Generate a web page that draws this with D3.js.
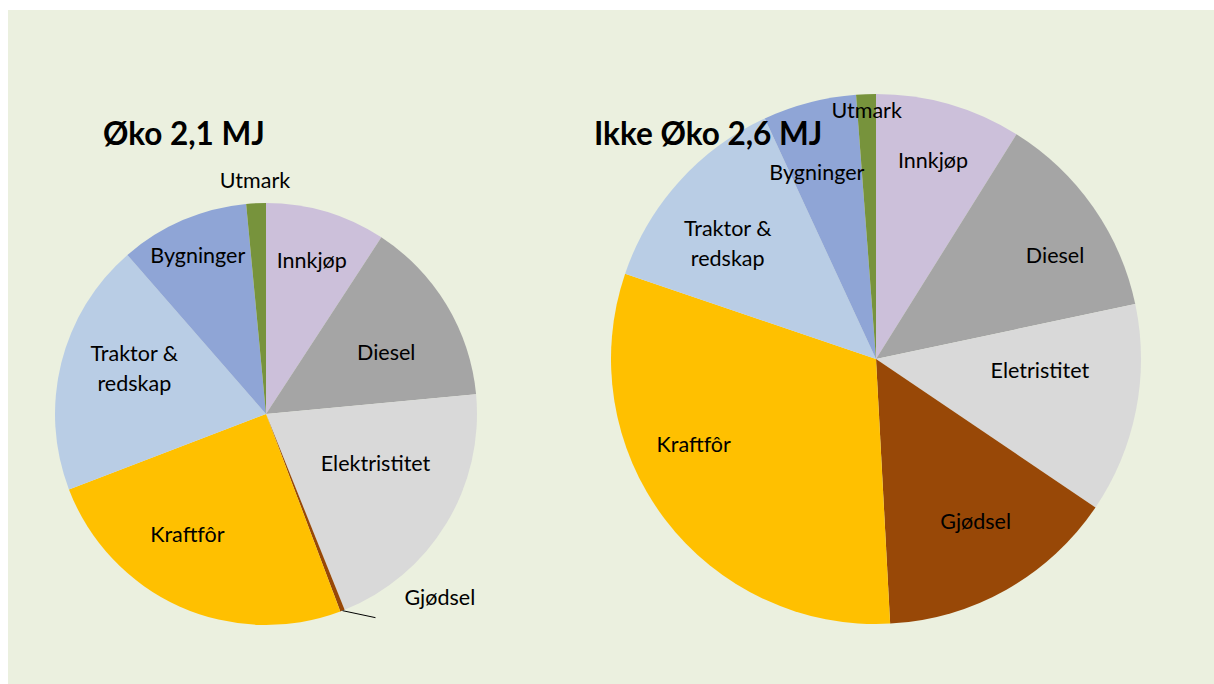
<!DOCTYPE html>
<html>
<head>
<meta charset="utf-8">
<script src="https://cdn.jsdelivr.net/npm/d3@7"></script>
<style>
  html, body { margin: 0; padding: 0; background: #fff; }
  svg { display: block; }
  text { font-family: Lato, "Open Sans", sans-serif; fill: #000; }
</style>
</head>
<body>
<svg id="chart" width="1214" height="684"></svg>
<script>
// shares in percent
var categoriesOko = ['Innkjøp', 'Diesel', 'Elektristitet', 'Gjødsel', 'Kraftfôr', 'Traktor & redskap', 'Bygninger', 'Utmark'];
var valuesOko = [9.2, 14.3, 20.4, 0.35, 24.9, 19.4, 9.9, 1.5];

var categoriesIkke = ['Innkjøp', 'Diesel', 'Eletristitet', 'Gjødsel', 'Kraftfôr', 'Traktor & redskap', 'Bygninger', 'Utmark'];
var valuesIkke = [8.9, 12.8, 12.8, 14.7, 31.1, 12.9, 5.7, 1.2];

var titles = ['Øko 2,1 MJ', 'Ikke Øko 2,6 MJ'];
var colors = ['#ccc0da', '#a5a5a5', '#d9d9d9', '#984807', '#ffc000', '#b9cde5', '#8fa5d6', '#77933c'];

var svg = d3.select('#chart');

svg.append('rect')
  .attr('x', 8).attr('y', 10)
  .attr('width', 1206).attr('height', 674)
  .attr('fill', '#ebf0df');

var color = d3.scaleOrdinal().domain(d3.range(8)).range(colors);

var pie = d3.pie().sort(null).value(d => d.value);

var fs = 21.5;

function drawPie(cats, vals, cx, cy, r, labelR, labelTurn) {
  var data = cats.map((c, i) => ({ name: c, value: vals[i], i: i }));
  var arcs = pie(data);
  var g = svg.append('g').attr('transform', 'translate(' + cx + ',' + cy + ')');
  var arc = d3.arc().innerRadius(0).outerRadius(r);

  g.selectAll('path').data(arcs).enter()
    .append('path')
    .attr('d', arc)
    .attr('fill', d => color(d.data.i));

  arcs.forEach(function (d, i) {
    if (labelR[i] == null) return;
    var a = (d.startAngle + d.endAngle) / 2 + labelTurn[i] * Math.PI / 180;
    var rr = r * labelR[i];
    var x = Math.sin(a) * rr, y = -Math.cos(a) * rr;
    var lines = d.data.name == 'Traktor & redskap' ? ['Traktor &', 'redskap'] : [d.data.name];
    var t = g.append('text')
      .attr('text-anchor', 'middle')
      .attr('font-size', fs)
      .attr('x', x)
      .attr('y', y - (lines.length - 1) * 15);
    lines.forEach(function (l, k) {
      t.append('tspan').attr('x', x).attr('dy', k == 0 ? '0.35em' : 30).text(l);
    });
  });
  return { g: g, arcs: arcs, r: r };
}

// Øko
var left = drawPie(categoriesOko, valuesOko, 266, 414, 211,
  [0.76, 0.64, 0.57, null, 0.68, 0.66, 0.82, 1.11],
  [0, 4, -7, 0, 9, 5, 0, 0]);

// leader for the thin Gjødsel slice
var gj = left.arcs[3];
var ga = (gj.startAngle + gj.endAngle) / 2;
var gx = Math.sin(ga) * left.r, gy = -Math.cos(ga) * left.r;
left.g.append('line')
  .attr('x1', gx).attr('y1', gy)
  .attr('x2', gx + 33).attr('y2', gy + 7)
  .attr('stroke', '#000').attr('stroke-width', 1);
left.g.append('text')
  .attr('x', gx + 62).attr('y', gy - 13)
  .attr('dy', '0.35em')
  .attr('font-size', fs)
  .text(gj.data.name);

// Ikke Øko
drawPie(categoriesIkke, valuesIkke, 876, 359, 265,
  [0.78, 0.78, 0.62, 0.72, 0.76, 0.71, 0.74, 0.94],
  [0, 5, -7, -2, 12, -4, -3, 0]);

svg.append('text')
  .attr('x', 103).attr('y', 134).attr('dy', '0.35em')
  .attr('font-size', 31.5).attr('font-weight', 'bold')
  .text(titles[0]);

svg.append('text')
  .attr('x', 594).attr('y', 134).attr('dy', '0.35em')
  .attr('font-size', 31.5).attr('font-weight', 'bold')
  .text(titles[1]);
</script>
</body>
</html>
